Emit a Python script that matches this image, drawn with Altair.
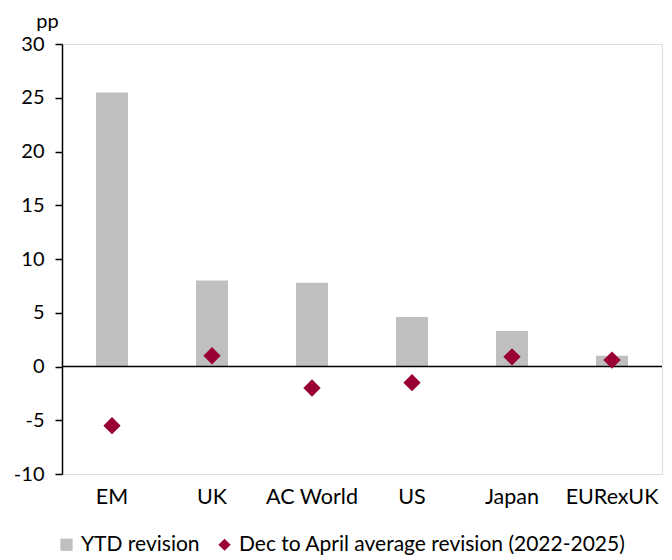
import altair as alt
import pandas as pd

categories = ["EM", "UK", "AC World", "US", "Japan", "EURexUK"]
ytd_revision = [25.5, 8.0, 7.8, 4.6, 3.3, 1.0]
avg_revision = [-5.5, 1.0, -2.0, -1.5, 0.9, 0.6]
series_names = ["YTD revision", "Dec to April average revision (2022-2025)"]
y_ticks = [-10, -5, 0, 5, 10, 15, 20, 25, 30]

bars_df = pd.DataFrame({"cat": categories, "value": ytd_revision, "series": series_names[0]})
pts_df = pd.DataFrame({"cat": categories, "value": avg_revision, "series": series_names[1]})

FONT = "Lato"
FS = 20
x_enc = alt.X("cat:N", sort=categories, title=None,
              scale=alt.Scale(paddingInner=0.68, paddingOuter=0.34),
              axis=alt.Axis(domain=False, ticks=False, labelAngle=0, labelPadding=12,
                            labelFontSize=21.5, labelFont=FONT, labelColor="#000"))
y_enc = alt.Y("value:Q", scale=alt.Scale(domain=[-10, 30], nice=False, zero=False),
              axis=alt.Axis(values=y_ticks, grid=False, domainColor="#000", domainWidth=1.5,
                            tickColor="#000", tickSize=7, tickWidth=1.5, labelPadding=11,
                            labelExpr="datum.value + ''",
                            labelFontSize=FS, labelFont=FONT, labelColor="#000",
                            title="pp", titleAngle=0, titleX=-15, titleY=-17,
                            titleAlign="center", titleBaseline="alphabetic",
                            titleFont=FONT, titleFontSize=FS, titleFontWeight="normal",
                            titleColor="#000"))

color_scale = alt.Scale(domain=series_names, range=["#bfbfbf", "#990033"])
shape_scale = alt.Scale(domain=series_names, range=["square", "diamond"])
legend = alt.Legend(title=None, orient="none", direction="horizontal", legendX=-6, legendY=490,
                    labelFont=FONT, labelFontSize=21, labelColor="#000", labelLimit=500,
                    symbolSize=150, symbolStrokeWidth=0, labelOffset=4, columnPadding=14)

bars = alt.Chart(bars_df).mark_bar().encode(
    x=x_enc, y=y_enc,
    color=alt.Color("series:N", scale=color_scale, legend=legend),
)
points = alt.Chart(pts_df).mark_point(filled=True, size=300, opacity=1).encode(
    x=x_enc, y=y_enc,
    color=alt.Color("series:N", scale=color_scale, legend=legend),
    shape=alt.Shape("series:N", scale=shape_scale, legend=legend),
)
zero = alt.Chart(pd.DataFrame({"v": [0]})).mark_rule(color="#000", strokeWidth=1.5).encode(y="v:Q")

chart = alt.layer(bars, zero, points).properties(
    width=600, height=430, padding={"left": 5, "top": 3, "right": 0, "bottom": 0}
).configure_view(stroke=None).configure(font=FONT)

chart.save("out.html", embed_options={"renderer": "svg", "actions": False})
